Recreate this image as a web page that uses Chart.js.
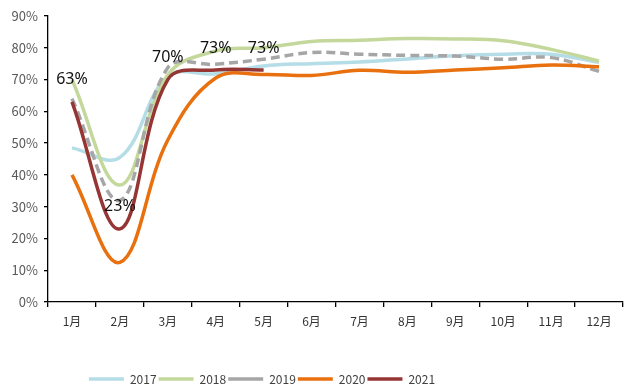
<!DOCTYPE html>
<html>
<head>
<meta charset="utf-8">
<script src="https://cdn.jsdelivr.net/npm/chart.js@4/dist/chart.umd.min.js"></script>
<style>
  html, body { margin: 0; padding: 0; background: #fff; }
  #wrap { width: 630px; height: 385px; position: relative; }
</style>
</head>
<body>
<div id="wrap"><canvas id="c" width="630" height="385"></canvas></div>
<script>
// Monthly rate (%) by year
const months = ['1月','2月','3月','4月','5月','6月','7月','8月','9月','10月','11月','12月'];
const y2017 = [48.5, 45.5, 71, 71.8, 74.3, 75, 75.5, 76.5, 77.5, 78, 78, 75.4];
const y2018 = [70, 36.8, 71.5, 79, 80, 82, 82.4, 82.9, 82.8, 82.2, 79.5, 75.8];
const y2019 = [64, 32, 73.7, 74.8, 76.4, 78.5, 78, 77.6, 77.4, 76.4, 76.9, 72.6];
const y2020 = [40, 12.5, 51, 70.5, 71.6, 71.3, 72.9, 72.3, 73, 73.7, 74.6, 74];
const y2021 = [63, 23, 70, 73, 73];
const yTicks = [0, 10, 20, 30, 40, 50, 60, 70, 80, 90];

const FONT = '"Noto Sans CJK SC", "Noto Sans", sans-serif';

// value labels above the 2021 points
const valueLabels = {
  id: 'valueLabels',
  afterDatasetsDraw(chart) {
    const idx = chart.data.datasets.findIndex(d => d.label === '2021');
    const meta = chart.getDatasetMeta(idx);
    const ctx = chart.ctx;
    ctx.save();
    ctx.font = '16px "Noto Sans", sans-serif';
    ctx.fillStyle = '#111';
    ctx.textAlign = 'center';
    ctx.textBaseline = 'middle';
    meta.data.forEach((pt, i) => {
      const v = chart.data.datasets[idx].data[i];
      ctx.fillText(Math.round(v) + '%', pt.x, pt.y - 22);
    });
    ctx.restore();
  }
};

// legend block sits left of centre, under the first months
const legendShift = {
  id: 'legendShift',
  afterLayout(chart) {
    const lg = chart.legend;
    if (!lg) return;
    lg.left = 0;
    lg.right = 524;
  }
};

const series = [
  { label: '2017', data: y2017, color: '#B4DDE7', dash: [], order: 5 },
  { label: '2018', data: y2018, color: '#C4D89C', dash: [], order: 4 },
  { label: '2019', data: y2019, color: '#A6A6A6', dash: [9, 5], order: 3 },
  { label: '2020', data: y2020, color: '#E8700E', dash: [], order: 2 },
  { label: '2021', data: y2021, color: '#963634', dash: [], order: 1 }
];

new Chart(document.getElementById('c'), {
  type: 'line',
  data: {
    labels: months,
    datasets: series.map(s => ({
      label: s.label,
      data: s.data,
      borderColor: s.color,
      backgroundColor: s.color,
      borderWidth: 3.5,
      borderDash: s.dash,
      borderCapStyle: 'butt',
      pointRadius: 0,
      pointHoverRadius: 0,
      tension: 0.38,
      fill: false,
      order: s.order
    }))
  },
  options: {
    responsive: false,
    animation: false,
    events: [],
    layout: { padding: { top: 16, right: 7, left: 0, bottom: -10 } },
    plugins: {
      tooltip: { enabled: false },
      legend: {
        position: 'bottom',
        labels: {
          usePointStyle: true,
          pointStyle: 'line',
          pointStyleWidth: 35,
          padding: 2,
          color: '#404040',
          font: { family: FONT, size: 12 },
          sort: (a, b) => a.datasetIndex - b.datasetIndex
        }
      }
    },
    scales: {
      x: {
        offset: true,
        grid: {
          display: true,
          drawOnChartArea: false,
          offset: true,
          drawTicks: true,
          tickLength: 5,
          color: '#000',
          lineWidth: 1.3
        },
        border: { display: true, color: '#000', width: 1.3 },
        ticks: {
          color: '#333',
          font: { family: FONT, size: 12 },
          padding: 7,
          maxRotation: 0
        },
        afterFit: s => { s.height = 69; }
      },
      y: {
        min: 0,
        max: 90,
        afterBuildTicks: s => { s.ticks = yTicks.map(v => ({ value: v })); },
        grid: {
          display: true,
          drawOnChartArea: false,
          drawTicks: true,
          tickLength: 4,
          color: '#000',
          lineWidth: 1.3
        },
        border: { display: true, color: '#000', width: 1.3 },
        ticks: {
          color: '#595959',
          font: { family: FONT, size: 13 },
          padding: 6,
          callback: v => v + '%'
        },
        afterFit: s => { s.width = 48; }
      }
    }
  },
  plugins: [valueLabels, legendShift]
});
</script>
</body>
</html>
